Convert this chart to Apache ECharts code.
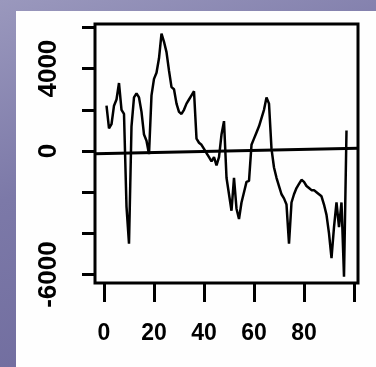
<!DOCTYPE html>
<html><head><meta charset="utf-8">
<script src="https://cdn.jsdelivr.net/npm/echarts@6/dist/echarts.min.js"></script>
<style>
html,body{margin:0;padding:0;width:376px;height:367px;overflow:hidden;}
body{background:linear-gradient(160deg,#9a98bd 0%,#7c79a8 40%,#6b679a 100%);}
#panel{position:absolute;left:16px;top:11px;right:0;bottom:0;background:#fefefe;}
#chart{position:absolute;left:0;top:0;width:376px;height:367px;}
</style></head>
<body><div id="panel"></div><div id="chart"></div>
<script>
const xIndex = [];
for (let i = 1; i <= 97; i++) xIndex.push(i);
const seriesValues = [2200,1100,1300,2200,2500,3300,2000,1800,-2700,-4500,
1200,2600,2800,2600,1900,800,500,-150,2700,3500,
3800,4500,5700,5300,4800,3900,3100,3000,2300,1900,
1800,2000,2300,2500,2700,2900,600,400,300,100,
-100,-300,-500,-300,-700,-300,800,1450,-1300,-2100,
-2900,-1300,-2800,-3300,-2500,-2000,-1500,-1450,300,600,
900,1200,1600,2000,2600,2300,100,-800,-1300,-1700,
-2100,-2300,-2600,-4500,-2500,-2100,-1800,-1600,-1400,-1500,
-1700,-1800,-1900,-1900,-2000,-2100,-2200,-2600,-3100,-4000,
-5200,-3700,-2500,-3700,-2500,-6100,1000];
const trendX = [-3.6, 101.6];
const trendY = [-130, 135];
const xTicks = [0,20,40,60,80,100];
const xLabels = [0,20,40,60,80];
const yTicks = [-6000,-4000,-2000,0,2000,4000,6000];
const yLabels = [-6000,0,4000];

const chart = echarts.init(document.getElementById('chart'), null, {renderer:'canvas'});
const font = 'Liberation Sans';
chart.setOption({
  backgroundColor: 'transparent',
  animation: false,
  grid: {left:95, top:24, width:263, height:259, show:true, borderColor:'#000', borderWidth:3, backgroundColor:'transparent'},
  xAxis: {
    type:'value', min:-3.6, max:101.6,
    axisLine:{show:false, onZero:false}, splitLine:{show:false},
    axisTick:{show:true, length:19, lineStyle:{color:'#000', width:3}, customValues:xTicks},
    axisLabel:{show:true, customValues:xLabels, margin:39, color:'#000', fontSize:23, fontWeight:'bold', fontFamily:font,
      formatter: v => String(v)}
  },
  yAxis: {
    type:'value', min:-6408, max:6165,
    axisLine:{show:false, onZero:false}, splitLine:{show:false},
    axisTick:{show:true, length:13, lineStyle:{color:'#000', width:3}, customValues:yTicks},
    axisLabel:{show:true, customValues:yLabels, rotate:90, margin:33, color:'#000', fontSize:26, fontWeight:'bold', fontFamily:font,
      formatter: v => String(v)}
  },
  series: [
    {type:'line', data:xIndex.map((x,i)=>[x, seriesValues[i]]), showSymbol:false, lineStyle:{color:'#000', width:2.5}},
    {type:'line', data:trendX.map((x,i)=>[x, trendY[i]]), showSymbol:false, lineStyle:{color:'#000', width:3}}
  ]
});
</script></body></html>
